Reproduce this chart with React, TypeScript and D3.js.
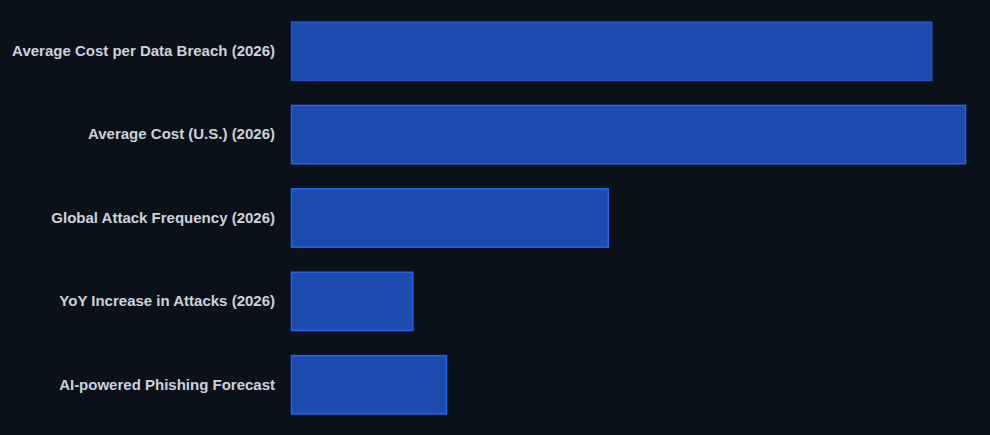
import { useEffect, useRef } from 'react'
import * as d3 from 'd3'

const categories = [
  'Average Cost per Data Breach (2026)',
  'Average Cost (U.S.) (2026)',
  'Global Attack Frequency (2026)',
  'YoY Increase in Attacks (2026)',
  'AI-powered Phishing Forecast',
]
const values = [9.5, 10, 4.7, 1.8, 2.3]

const W = 990
const H = 435

export default function App() {
  const svgRef = useRef<SVGSVGElement>(null)

  useEffect(() => {
    if (!svgRef.current) return
    const svg = d3.select(svgRef.current)
    svg.selectAll('*').remove()

    svg.append('rect').attr('width', W).attr('height', H).attr('fill', '#0b1119')

    const x = d3.scaleLinear().domain([0, 10]).range([291, 965])
    const y = d3
      .scaleBand<string>()
      .domain(categories)
      .range([9, 426])
      .paddingInner(0.3)
      .paddingOuter(0.15)

    const data = categories.map((c, i) => ({ c, v: values[i] }))

    svg.selectAll('.bar')
      .data(data)
      .enter()
      .append('rect')
      .attr('class', 'bar')
      .attr('x', x(0) + 0.5)
      .attr('y', d => (y(d.c) || 0) + 0.5)
      .attr('width', d => x(d.v) - x(0))
      .attr('height', y.bandwidth())
      .attr('fill', '#1e4bb0')
      .attr('stroke', (d, i) => (i === 0 ? '#2254c9' : '#2563eb'))
      .attr('stroke-width', 1.5)

    svg.selectAll('.label')
      .data(data)
      .enter()
      .append('text')
      .attr('class', 'label')
      .attr('x', 275)
      .attr('y', d => (y(d.c) || 0) + y.bandwidth() / 2)
      .attr('dy', '0.35em')
      .attr('text-anchor', 'end')
      .style('font-family', '"Liberation Sans", Arial, sans-serif')
      .style('font-weight', 'bold')
      .style('font-size', '15px')
      .style('fill', '#cbd2dc')
      .text(d => d.c)
  }, [])

  return (
    <div style={{ position: 'absolute', left: 0, top: 0 }}>
      <svg ref={svgRef} width={W} height={H} style={{ display: 'block' }} />
    </div>
  )
}
